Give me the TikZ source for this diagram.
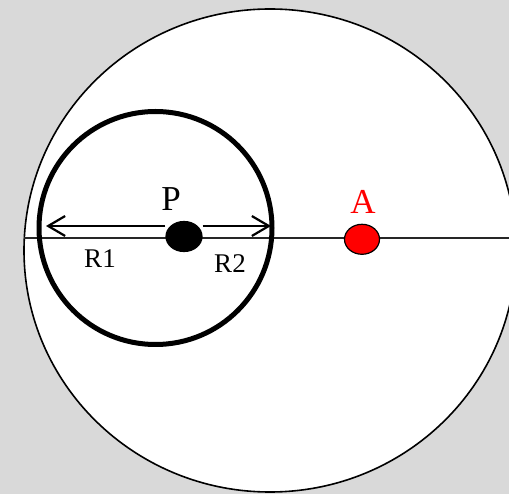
\documentclass[tikz,border=0pt]{standalone}
\usepackage{fontspec}
\setmainfont{Liberation Serif}
\usetikzlibrary{shapes.geometric,arrows.meta}
\definecolor{bggray}{HTML}{D9D9D9}
\tikzset{
  dot/.style={ellipse, draw=black, line width=1.2pt, minimum width=36pt, minimum height=30pt, inner sep=0pt},
  radarrow/.style={line width=2.6pt, -{Straight Barb[length=17pt,width=20pt,line width=2.2pt]}},
  lbl/.style={inner sep=0pt, font=\fontsize{27}{29}\selectfont},
  biglbl/.style={inner sep=0pt, font=\fontsize{35}{37}\selectfont}
}
\begin{document}
\begin{tikzpicture}[x=1pt,y=-1pt]
\useasboundingbox (0,0) rectangle (509,494);
\clip (0,0) rectangle (509,494);
\fill[bggray] (0,0) rectangle (509,494);
% outer circle
\draw[line width=1.6pt, fill=white] (270,250.5) ellipse [x radius=246, y radius=241.5];
% axis line
\coordinate (L) at (24,238.3);
\coordinate (R) at (509,238.3);
\draw[line width=1.6pt, black!85] (L) -- (R);
% inner circle
\draw[line width=5pt] (155.5,228) circle [radius=116.5];
% dots
\node[dot, fill=black] (P) at (184,236.5) {};
\node[dot, fill=red, minimum width=35pt, minimum height=30pt] (A) at (362,239.3) {};
% arrows
\coordinate (Lt) at (46,226);
\coordinate (Rt) at (271,226);
\draw[radarrow] (P.west |- 0,226) -- (Lt);
\draw[radarrow] (P.east |- 0,226) -- (Rt);
% labels
\node[biglbl] (Plbl) at (171,199) {P};
\node[biglbl, text=red] (Albl) at (363,202) {A};
\node[lbl] (R1) at (100,259) {R1};
\node[lbl] (R2) at (230,264) {R2};
\end{tikzpicture}
\end{document}
